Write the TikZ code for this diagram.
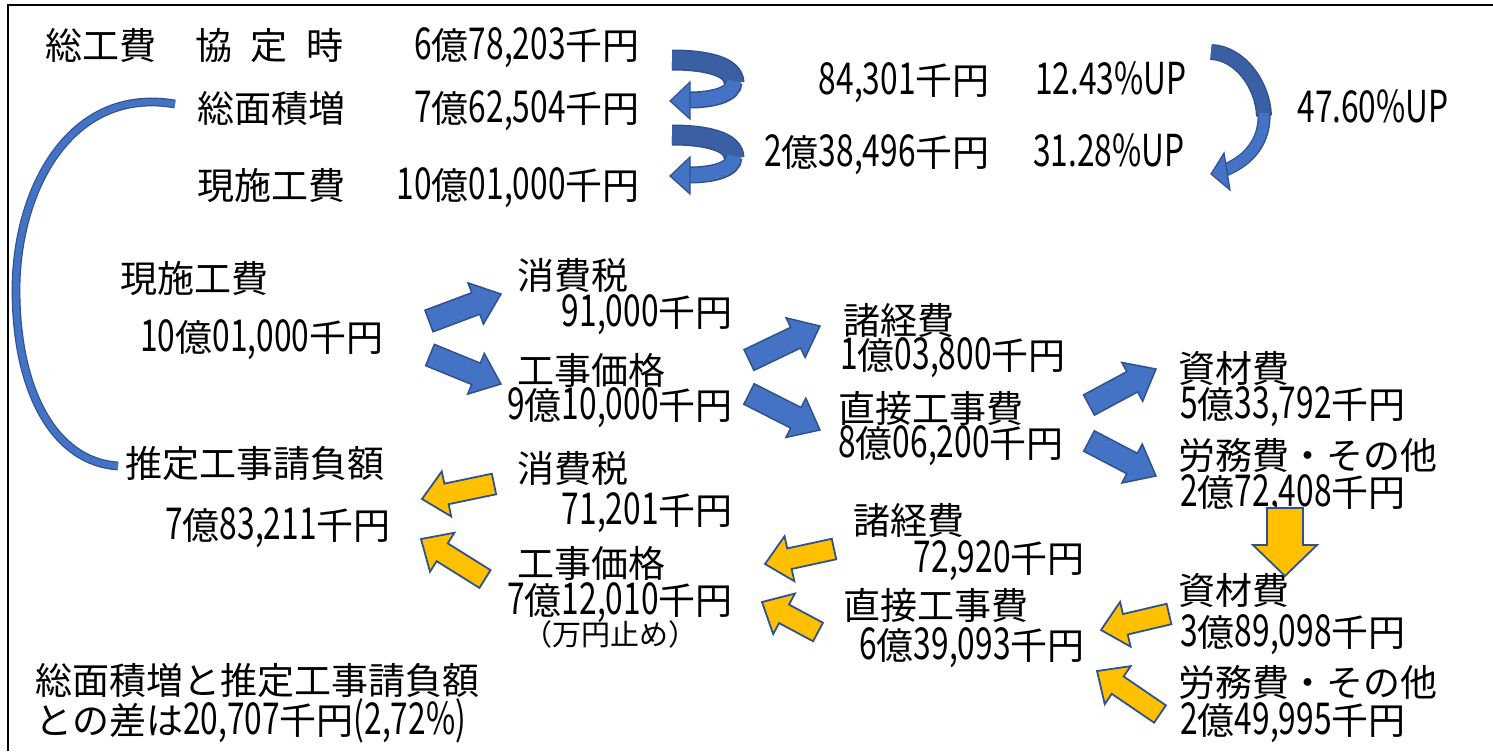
\documentclass[tikz,border=0pt]{standalone}
\usepackage{fontspec}
\setmainfont{Noto Sans CJK JP}
\newfontfamily\digfont[FakeStretch=0.72]{Noto Sans CJK JP}
\newcommand\nm[1]{{\fontsize{22}{24}\selectfont\digfont #1}}
\usetikzlibrary{calc}
\definecolor{pblue}{HTML}{4472C4}
\definecolor{pdark}{HTML}{3A5FA3}
\definecolor{pline}{HTML}{2F528F}
\definecolor{pyel}{HTML}{FFC000}
% block arrow: #1 style, #2,#3 tail (px), #4,#5 tip (px), #6 shaft width, #7 head width, #8 head length (px)
\newcommand\blockarrow[8]{%
  \pgfmathsetmacro\bdx{(#4-#2)*0.5}%
  \pgfmathsetmacro\bdy{-(#5-#3)*0.5}%
  \pgfmathsetmacro\bang{atan2(\bdy,\bdx)}%
  \pgfmathsetmacro\blen{veclen(\bdx,\bdy)}%
  \pgfmathsetmacro\bsw{#6*0.25}%
  \pgfmathsetmacro\bhw{#7*0.25}%
  \pgfmathsetmacro\bneck{\blen-#8*0.5}%
  \draw[#1, shift={(#2,#3)}, rotate=\bang]
    (0pt,-\bsw pt) -- (\bneck pt,-\bsw pt) -- (\bneck pt,-\bhw pt) -- (\blen pt,0pt)
    -- (\bneck pt,\bhw pt) -- (\bneck pt,\bsw pt) -- (0pt,\bsw pt) -- cycle;
}
\begin{document}
\begin{tikzpicture}[x=0.5pt,y=-0.5pt,
  txt/.style={inner sep=0pt, font=\fontsize{18.5}{20}\selectfont, text height=14pt, text depth=0pt},
  small/.style={inner sep=0pt, font=\fontsize{14.5}{16}\selectfont, text height=11pt, text depth=0pt},
  bluearrow/.style={fill=pblue, draw=pline, line width=0.75pt, line join=miter},
  yelarrow/.style={fill=pyel, draw=pline, line width=0.9pt, line join=miter},
  backband/.style={draw=pdark, line cap=butt},
  frontband/.style={draw=pblue, line cap=butt},
  headfill/.style={fill=pblue, draw=pline, line width=0.6pt, line join=miter}]
\useasboundingbox (0,0) rectangle (1493,751);
% frame
\draw[line width=1pt] (8,751) -- (8,5) -- (1493,5);

% ---------- top block ----------
\node[txt,anchor=west] (sokohi) at (45,45) {総工費};
\node[txt,anchor=west] (kyotei) at (195,45) {協\hspace{0.5em}定\hspace{0.5em}時};
\node[txt,anchor=east] (v1) at (640,45) {\nm{6}億\nm{78,203}千円};
\node[txt,anchor=west] (somen) at (197,108) {総面積増};
\node[txt,anchor=east] (v2) at (640,108) {\nm{7}億\nm{62,504}千円};
\node[txt,anchor=west] (genshi) at (197,185) {現施工費};
\node[txt,anchor=east] (v3) at (640,185) {\nm{10}億\nm{01,000}千円};
\node[txt,anchor=east] (d1) at (990,80) {\nm{84,301}千円};
\node[txt,anchor=west] (p1) at (1035,80) {\nm{12.43\%UP}};
\node[txt,anchor=east] (d2) at (990,152) {\nm{2}億\nm{38,496}千円};
\node[txt,anchor=west] (p2) at (1033,152) {\nm{31.28\%UP}};
\node[txt,anchor=west] (p3) at (1297,108) {\nm{47.60\%UP}};

% small U-turn arrows
\foreach \dy in {0,75} {
  \begin{scope}[yshift=-\dy*0.5pt]
    \draw[backband, line width=10.5pt, draw=pline] (672,60) .. controls (705,60) and (734,66) .. (734,83);
    \draw[backband, line width=9pt] (672,60) .. controls (705,60) and (734,66) .. (734,83);
    \draw[frontband, line width=8.5pt, draw=pline] (734,82) .. controls (734,95) and (712,100) .. (689,100);
    \draw[frontband, line width=7pt] (734,81) .. controls (734,95) and (712,100) .. (689,100);
    \draw[headfill] (690,82) -- (670,101) -- (690,119) -- cycle;
  \end{scope}
}
% big right curved arrow
\draw[backband, line width=8pt, draw=pline] (1211,52) .. controls (1240,53) and (1263,85) .. (1264,116);
\draw[backband, line width=6.6pt] (1211,52) .. controls (1240,53) and (1263,85) .. (1264,116);
\draw[frontband, line width=6.5pt, draw=pline] (1264,114) .. controls (1265,140) and (1250,160) .. (1225,170);
\draw[frontband, line width=5.2pt] (1264,113) .. controls (1265,140) and (1250,160) .. (1225,170);
\draw[headfill] (1224,153) -- (1211,174) -- (1230,190) -- cycle;

% big left arc
\draw[line width=4.4pt, pline] (175,104) .. controls (70,86) and (16,190) .. (16,290) .. controls (16,392) and (55,462) .. (118,466);
\draw[line width=3.2pt, pblue] (175,104) .. controls (70,86) and (16,190) .. (16,290) .. controls (16,392) and (55,462) .. (118,466);

% ---------- middle (blue) block ----------
\node[txt,anchor=west] (genshi2) at (120,278) {現施工費};
\node[txt,anchor=west] (genshiv) at (140,337) {\nm{10}億\nm{01,000}千円};
\node[txt,anchor=west] (shohi1) at (517,275) {消費税};
\node[txt,anchor=east] (shohi1v) at (733,312) {\nm{91,000}千円};
\node[txt,anchor=west] (kakaku1) at (517,370) {工事価格};
\node[txt,anchor=east] (kakaku1v) at (733,405) {\nm{9}億\nm{10,000}千円};
\node[txt,anchor=west] (shokei1) at (843,320) {諸経費};
\node[txt,anchor=west] (shokei1v) at (840,355) {\nm{1}億\nm{03,800}千円};
\node[txt,anchor=west] (choku1) at (838,408) {直接工事費};
\node[txt,anchor=west] (choku1v) at (838,443) {\nm{8}億\nm{06,200}千円};
\node[txt,anchor=west] (shizai1) at (1178,368) {資材費};
\node[txt,anchor=west] (shizai1v) at (1180,404) {\nm{5}億\nm{33,792}千円};
\node[txt,anchor=west] (romu1) at (1178,455) {労務費・その他};
\node[txt,anchor=west] (romu1v) at (1180,492) {\nm{2}億\nm{72,408}千円};

\blockarrow{bluearrow}{429}{321}{501}{294}{23}{44}{27}
\blockarrow{bluearrow}{430}{355}{501}{384}{23}{44}{27}
\blockarrow{bluearrow}{749}{360}{820}{326}{23}{44}{27}
\blockarrow{bluearrow}{749}{394}{820}{430}{23}{44}{27}
\blockarrow{bluearrow}{1089}{405}{1156}{369}{23}{44}{27}
\blockarrow{bluearrow}{1089}{441}{1156}{476}{23}{44}{27}

% ---------- lower (yellow) block ----------
\node[txt,anchor=west] (suitei) at (125,463) {推定工事請負額};
\node[txt,anchor=west] (suiteiv) at (165,525) {\nm{7}億\nm{83,211}千円};
\node[txt,anchor=west] (shohi2) at (517,468) {消費税};
\node[txt,anchor=east] (shohi2v) at (733,510) {\nm{71,201}千円};
\node[txt,anchor=west] (kakaku2) at (517,563) {工事価格};
\node[txt,anchor=east] (kakaku2v) at (733,600) {\nm{7}億\nm{12,010}千円};
\node[small] (mandome) at (610,634) {（万円止め）};
\node[txt,anchor=west] (shokei2) at (853,520) {諸経費};
\node[txt,anchor=east] (shokei2v) at (1085,558) {\nm{72,920}千円};
\node[txt,anchor=west] (choku2) at (843,605) {直接工事費};
\node[txt,anchor=east] (choku2v) at (1085,645) {\nm{6}億\nm{39,093}千円};
\node[txt,anchor=west] (shizai2) at (1178,590) {資材費};
\node[txt,anchor=west] (shizai2v) at (1180,632) {\nm{3}億\nm{89,098}千円};
\node[txt,anchor=west] (romu2) at (1178,682) {労務費・その他};
\node[txt,anchor=west] (romu2v) at (1180,720) {\nm{2}億\nm{49,995}千円};
\node[txt,anchor=west] (note1) at (35,680) {総面積増と推定工事請負額};
\node[txt,anchor=west] (note2) at (35,720) {との差は\nm{20,707}千円\nm{(2,72\%)}};

\blockarrow{yelarrow}{1285}{508}{1285}{576}{36}{64}{31}
\blockarrow{yelarrow}{494}{484}{422}{499}{21}{46}{25}
\blockarrow{yelarrow}{485}{579}{421}{539}{21}{46}{25}
\blockarrow{yelarrow}{834}{549}{765}{564}{21}{46}{25}
\blockarrow{yelarrow}{818}{632}{762}{602}{21}{46}{25}
\blockarrow{yelarrow}{1169}{614}{1101}{630}{21}{46}{25}
\blockarrow{yelarrow}{1160}{714}{1097}{671}{21}{46}{25}
\end{tikzpicture}
\end{document}
